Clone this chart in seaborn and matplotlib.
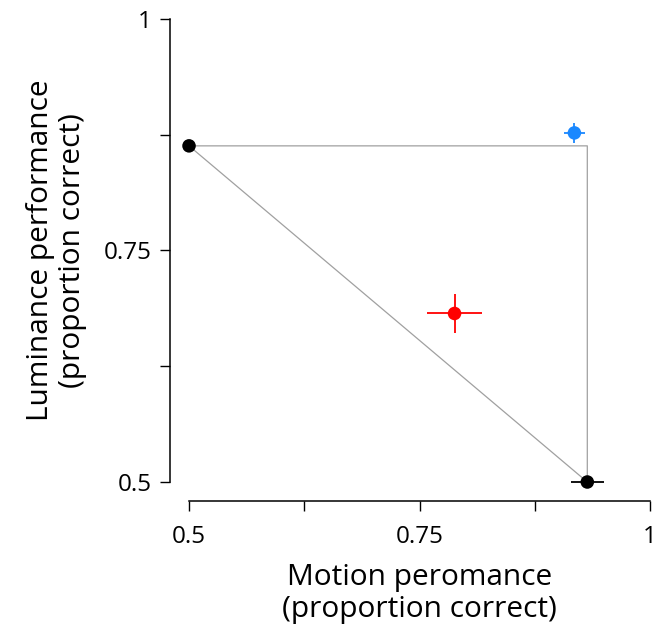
import seaborn as sns
import matplotlib.pyplot as plt
import pandas as pd

# conditions: motion only, luminance only, combined (red), blue
conditions = ["luminance", "motion", "combined", "cued"]
motion = [0.5, 0.932, 0.788, 0.918]
luminance = [0.863, 0.5, 0.682, 0.877]
motion_err = [0.0, 0.018, 0.030, 0.011]
lum_err = [0.0, 0.0, 0.021, 0.011]
colors = ["black", "black", "red", "#1a88ff"]

df = pd.DataFrame({"cond": conditions, "motion": motion, "lum": luminance,
                   "xerr": motion_err, "yerr": lum_err})

sns.set_style("ticks")
plt.rcParams['font.family'] = ['Open Sans', 'DejaVu Sans']

fig = plt.figure(figsize=(6.67, 6.29), dpi=100)
ax = fig.add_axes([0.2834, 0.2337, 0.6911, 0.7361])

# grey triangle from the two single-task points
x0, y0 = df.motion[0], df.lum[0]
x1, y1 = df.motion[1], df.lum[1]
ax.plot([x0, x1, x1, x0], [y0, y0, y1, y0], color="#a0a0a0", lw=0.9,
        zorder=1, clip_on=False)

for i, row in df.iterrows():
    ax.errorbar(row.motion, row.lum, xerr=row.xerr or None, yerr=row.yerr or None,
                fmt="none", ecolor=colors[i], elinewidth=1.3, capsize=0,
                clip_on=False, zorder=2)

sns.scatterplot(data=df, x="motion", y="lum", hue="cond", palette=colors,
                s=95, edgecolor="none", legend=False, ax=ax, zorder=3,
                clip_on=False)

ax.set_xlim(0.5, 1)
ax.set_ylim(0.5, 1)
ax.set_xticks([0.5, 0.625, 0.75, 0.875, 1])
ax.set_xticklabels(["0.5", "", "0.75", "", "1"])
ax.set_yticks([0.5, 0.625, 0.75, 0.875, 1])
ax.set_yticklabels(["0.5", "", "0.75", "", "1"])
ax.tick_params(length=7, width=1, color="black", labelcolor="black",
               labelsize=17.5, pad=6)
ax.tick_params(axis="x", pad=10)
for s in ["left", "bottom"]:
    ax.spines[s].set_linewidth(1.1)
    ax.spines[s].set_color("black")
sns.despine(ax=ax, offset=14)

ax.set_xlabel("Motion peromance\n(proportion correct)", fontsize=21.5, labelpad=10,
              linespacing=1.15, color="black")
ax.set_ylabel("Luminance performance\n(proportion correct)", fontsize=21.5, labelpad=12,
              linespacing=1.15, color="black")

fig.savefig("out.png", dpi=100)
